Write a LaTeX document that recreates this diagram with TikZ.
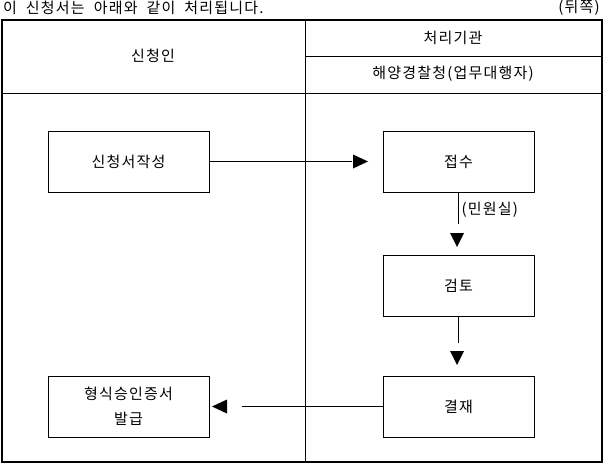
\documentclass[tikz,border=0pt]{standalone}
\usepackage{fontspec}
\setmainfont[LetterSpace=8]{Noto Sans CJK KR}
\usetikzlibrary{arrows.meta}
\begin{document}
\begin{tikzpicture}[x=1pt,y=-1pt,
  every node/.style={font=\fontsize{15}{17}\selectfont},
  proc/.style={draw,line width=0.8pt,minimum width=161pt,minimum height=61pt,inner sep=0pt,align=center},
  procr/.style={proc,minimum width=151pt},
  flow/.style={line width=0.8pt},
  tri/.style={fill=black,draw=none}]
\useasboundingbox (0,0) rectangle (603,463);
% header text
\node[anchor=west,inner sep=0pt] (title) at (3,8) {\spaceskip=9pt\relax 이 신청서는 아래와 같이 처리됩니다.};
\node[anchor=east,inner sep=0pt] (side) at (600,8) {(뒤쪽)};
% table
\draw[line width=2pt] (1.5,19.5) rectangle (601.5,461.5);
\draw[line width=0.8pt] (305,19.5) -- (305,461.5);
\draw[line width=0.8pt] (305,56) -- (601.5,56);
\draw[line width=0.8pt] (1.5,93) -- (601.5,93);
\node (appl) at (153,56) {신청인};
\node (org) at (453,38) {처리기관};
\node (agent) at (453,74) {해양경찰청(업무대행자)};
% boxes
\node[proc] (write) at (128.5,161.5) {신청서작성};
\node[procr] (recv) at (458.5,161.5) {접수};
\node[procr] (review) at (458.5,286) {검토};
\node[procr] (approve) at (458.5,406.5) {결재};
\node[proc] (issue) at (128.5,406.5) {형식승인증서\\[8pt]발급};
% connector coordinates
\coordinate (a1) at (352,161.5);
\coordinate (a2) at (458,224);
\coordinate (a3) at (458,343);
\coordinate (a4) at (242,406.5);
% connectors
\draw[flow] (write.east) -- (a1);
\fill[tri] (353,154.5) -- (368,161.5) -- (353,168.5) -- cycle;
\draw[flow] (recv.south -| a2) -- (a2);
\node[anchor=west] (minwon) at (458,210) {(민원실)};
\fill[tri] (450,233) -- (464,233) -- (457,247) -- cycle;
\draw[flow] (review.south -| a3) -- (a3);
\fill[tri] (450,351) -- (464,351) -- (457,365) -- cycle;
\draw[flow] (approve.west) -- (a4);
\fill[tri] (227,399.5) -- (212,406.5) -- (227,413.5) -- cycle;
\end{tikzpicture}
\end{document}
